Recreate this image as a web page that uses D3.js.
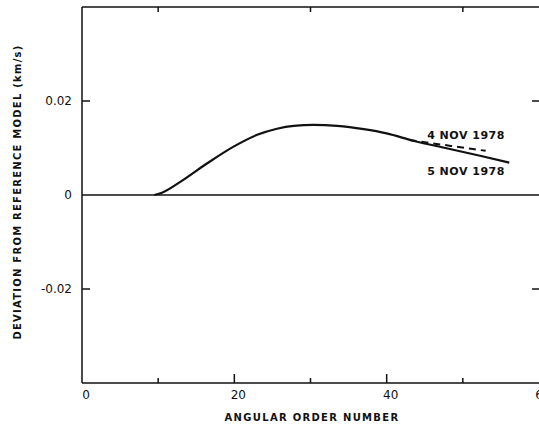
<!DOCTYPE html>
<html lang="en">
  <head>
    <meta charset="UTF-8" />
    <title>Deviation from reference model</title>
    <style>
      body { margin: 0; background: #fff; }
      text { font-family: "DejaVu Sans", sans-serif; fill: #111; }
    </style>
  </head>
  <body>
    <svg id="chart" width="539" height="428"></svg>
    <script src="https://d3js.org/d3.v7.min.js"></script>
    <script>
      // 5 Nov 1978 (solid) : angular order number, deviation (km/s)
      const nov5 = [
        [9.5, 0], [10.5, 0.0005], [12.9, 0.0028], [16.4, 0.0067], [19.9, 0.0103],
        [23, 0.0128], [25.6, 0.0141], [27.8, 0.0147], [30.4, 0.0149],
        [33.5, 0.0147], [37, 0.014], [40, 0.0131], [43.6, 0.0115],
        [48, 0.0099], [52.4, 0.0083], [56.1, 0.0069]
      ];
      // 4 Nov 1978 (dashed), splits from the solid curve near 43
      const nov4 = [[43, 0.0117], [46, 0.011], [49.5, 0.0102], [53, 0.0094]];

      const xTicks = [0, 20, 40, 60];
      const xMinor = [10, 30, 50];
      const yTicks = [0.02, 0, -0.02];

      const svg = d3.select("#chart");
      const x = d3.scaleLinear().domain([0, 60]).range([82, 539]);
      const y = d3.scaleLinear().domain([-0.04, 0.04]).range([383, 7]);

      const ax = svg.append("g").attr("stroke", "#111").attr("stroke-width", 1.5);
      // frame
      ax.append("line").attr("x1", x(0)).attr("x2", x(0)).attr("y1", y(0.04)).attr("y2", y(-0.04));
      ax.append("line").attr("x1", x(0)).attr("x2", 545).attr("y1", y(0.04)).attr("y2", y(0.04));
      ax.append("line").attr("x1", x(0)).attr("x2", 545).attr("y1", y(-0.04)).attr("y2", y(-0.04));
      ax.append("line").attr("x1", x(0)).attr("x2", 545).attr("y1", y(0)).attr("y2", y(0));

      // bottom ticks (inward)
      xTicks.slice(1, 3).forEach((t) => {
        ax.append("line").attr("x1", x(t)).attr("x2", x(t)).attr("y1", y(-0.04)).attr("y2", y(-0.04) - 9);
      });
      xMinor.forEach((t) => {
        ax.append("line").attr("x1", x(t)).attr("x2", x(t)).attr("y1", y(-0.04)).attr("y2", y(-0.04) - 5);
        ax.append("line").attr("x1", x(t)).attr("x2", x(t)).attr("y1", y(0.04)).attr("y2", y(0.04) + 5);
      });
      // left and right ticks
      [0.02, -0.02].forEach((t) => {
        ax.append("line").attr("x1", x(0)).attr("x2", x(0) + 8).attr("y1", y(t)).attr("y2", y(t));
        ax.append("line").attr("x1", 532).attr("x2", 539).attr("y1", y(t)).attr("y2", y(t));
      });

      // tick labels
      svg.append("g").selectAll("text").data(xTicks).join("text")
        .attr("x", (d) => x(d) + 4).attr("y", 399)
        .attr("text-anchor", "middle").attr("font-size", 12)
        .text((d) => d);
      svg.append("g").selectAll("text").data(yTicks).join("text")
        .attr("x", 72).attr("y", (d) => y(d) + 4)
        .attr("text-anchor", "end").attr("font-size", 12)
        .text((d) => (d === 0 ? "0" : d.toFixed(2)));

      // axis titles
      svg.append("text")
        .attr("x", 312).attr("y", 421)
        .attr("text-anchor", "middle").attr("font-size", 10)
        .attr("letter-spacing", 1.3).attr("font-weight", "bold")
        .text("ANGULAR ORDER NUMBER");
      svg.append("text")
        .attr("transform", "translate(21,192) rotate(-90)")
        .attr("text-anchor", "middle").attr("font-size", 10)
        .attr("letter-spacing", 1.25).attr("font-weight", "bold")
        .text("DEVIATION FROM REFERENCE MODEL (km/s)");

      const line = d3.line().x((d) => x(d[0])).y((d) => y(d[1])).curve(d3.curveMonotoneX);

      svg.append("path").datum(nov5)
        .attr("d", line).attr("fill", "none")
        .attr("stroke", "#111").attr("stroke-width", 2.2);
      svg.append("path").datum(nov4)
        .attr("d", line).attr("fill", "none")
        .attr("stroke", "#111").attr("stroke-width", 2)
        .attr("stroke-dasharray", "7,5");

      // curve labels
      svg.append("text").attr("x", 466).attr("y", 139)
        .attr("text-anchor", "middle").attr("font-size", 11).attr("font-weight", "bold")
        .attr("letter-spacing", 0.5).text("4 NOV 1978");
      svg.append("text").attr("x", 466).attr("y", 175)
        .attr("text-anchor", "middle").attr("font-size", 11).attr("font-weight", "bold")
        .attr("letter-spacing", 0.5).text("5 NOV 1978");
    </script>
  </body>
</html>
